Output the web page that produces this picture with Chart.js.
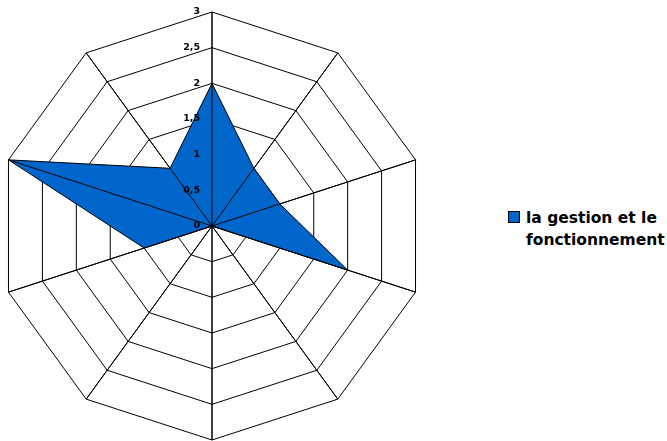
<!DOCTYPE html>
<html>
<head>
<meta charset="utf-8">
<script src="https://cdn.jsdelivr.net/npm/chart.js@4/dist/chart.umd.min.js"></script>
<style>
  html, body { margin: 0; padding: 0; background: #fff; }
  body { width: 667px; height: 441px; position: relative; overflow: hidden; }
  #wrap { position: absolute; left: -3px; top: 0; width: 430px; height: 441px; }
  #legend { position: absolute; left: 508px; top: 207px; font: bold 15.5px "DejaVu Sans", Verdana, sans-serif; color: #000; line-height: 22px; white-space: nowrap; }
  #legend .box { position: absolute; left: 0; top: 4px; width: 10px; height: 10px; background: #0066cc; border: 1px solid #000; }
  #legend .txt { margin-left: 18px; }
</style>
</head>
<body>
<div id="wrap"><canvas id="graph-container"></canvas></div>
<div id="legend"></div>
<script>
// ten axes, no category names shown in the picture
const axes = ['', '', '', '', '', '', '', '', '', ''];
const seriesName = 'la gestion et le fonctionnement';
const seriesValues = [2, 1, 1, 2, 0, 0, 0, 1, 3, 1];
const tickValues = [0, 0.5, 1, 1.5, 2, 2.5, 3];

const fillColor = '#0066cc';

// Spokes over the filled area, tick labels left of the top axis with a decimal comma
const tickLabels = {
  id: 'tickLabels',
  afterDatasetsDraw(chart) {
    const scale = chart.scales.r;
    const ctx = chart.ctx;
    ctx.save();

    ctx.strokeStyle = '#000';
    ctx.lineWidth = 1;
    for (let i = 0; i < axes.length; i++) {
      const p = scale.getPointPositionForValue(i, scale.max);
      ctx.beginPath();
      ctx.moveTo(scale.xCenter, scale.yCenter);
      ctx.lineTo(p.x, p.y);
      ctx.stroke();
    }

    ctx.fillStyle = '#000';
    ctx.font = 'bold 9.5px "DejaVu Sans", Verdana, sans-serif';
    ctx.textAlign = 'right';
    ctx.textBaseline = 'middle';
    tickValues.forEach(v => {
      const d = scale.getDistanceFromCenterForValue(v);
      ctx.fillText(String(v).replace('.', ','), scale.xCenter - 12, scale.yCenter - d);
    });
    ctx.restore();
  }
};

const ctx = document.getElementById('graph-container');
new Chart(ctx, {
  type: 'radar',
  data: {
    labels: axes,
    datasets: [{
      label: seriesName,
      data: seriesValues,
      backgroundColor: fillColor,
      borderColor: '#000',
      borderWidth: 1,
      pointRadius: 0,
      fill: true
    }]
  },
  options: {
    responsive: true,
    maintainAspectRatio: false,
    animation: false,
    layout: { padding: { top: 12, bottom: 0, left: 0, right: 0 } },
    plugins: {
      legend: { display: false },
      tooltip: { enabled: false }
    },
    scales: {
      r: {
        min: 0,
        max: 3,
        ticks: { stepSize: 0.5, display: false, showLabelBackdrop: false },
        pointLabels: { display: false },
        grid: { color: '#000', lineWidth: 1 },
        angleLines: { color: '#000', lineWidth: 1 }
      }
    }
  },
  plugins: [tickLabels]
});

document.getElementById('legend').innerHTML =
  '<div class="box"></div><div class="txt">la gestion et le<br>fonctionnement</div>';
</script>
</body>
</html>
